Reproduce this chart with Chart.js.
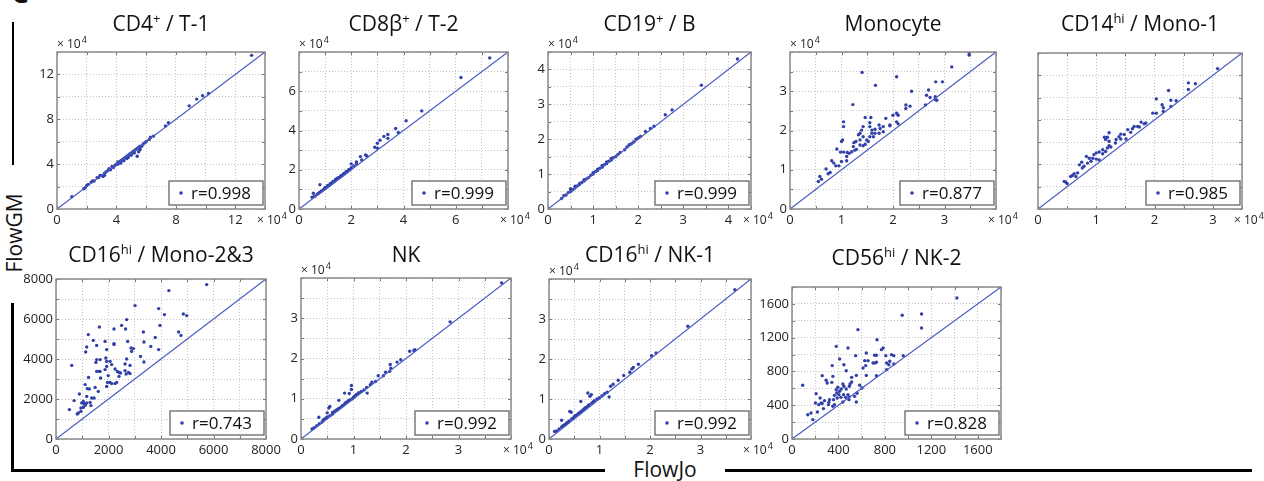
<!DOCTYPE html>
<html>
<head>
<meta charset="utf-8">
<script src="https://cdn.jsdelivr.net/npm/chart.js@4.4.0/dist/chart.umd.min.js"></script>
<style>
  body { margin: 0; width: 1264px; height: 481px; background: #fff; position: relative; overflow: hidden; font-family: 'Open Sans', sans-serif; color: #111; }
  canvas { position: absolute; }
  .tit { position: absolute; font-size: 21px; line-height: 24px; white-space: nowrap; transform: translate(-50%, -50%); }
  .tit sup { font-size: 13px; line-height: 0; vertical-align: 8px; }
  .bar { position: absolute; background: #000; }
  .lab { position: absolute; font-size: 21px; line-height: 22px; white-space: nowrap; }
</style>
</head>
<body>
<div class="lab" style="left:11px;top:-22px;font-size:28px;line-height:28px;font-weight:bold">C</div>
<div class="bar" style="left:12px;top:22px;width:2px;height:143px"></div>
<div class="bar" style="left:11px;top:303px;width:3px;height:169px"></div>
<div class="bar" style="left:11px;top:469px;width:594px;height:3px"></div>
<div class="bar" style="left:725px;top:469px;width:527px;height:3px"></div>
<div class="lab" style="left:14px;top:233px;transform:translate(-50%,-50%) rotate(-90deg)">FlowGM</div>
<div class="lab" style="left:665px;top:458px;transform:translateX(-50%)">FlowJo</div>

<script>
// titulos e coeficientes de correlacao
const titulos = ['CD4<sup>+</sup> / T-1', 'CD8β<sup>+</sup> / T-2', 'CD19<sup>+</sup> / B', 'Monocyte', 'CD14<sup>hi</sup> / Mono-1',
  'CD16<sup>hi</sup> / Mono-2&amp;3', 'NK', 'CD16<sup>hi</sup> / NK-1', 'CD56<sup>hi</sup> / NK-2'];
const rotulosR = ['r=0.998', 'r=0.999', 'r=0.999', 'r=0.877', 'r=0.985', 'r=0.743', 'r=0.992', 'r=0.992', 'r=0.828'];

// CD4+ / T-1 (x 10^4)
const cd4X = [1.0,1.8,1.9,2.0,2.1,2.3,2.4,2.5,2.7,2.8,2.9,3.0,3.1,3.2,3.2,3.3,3.4,3.5,3.6,3.7,3.8,3.9,4.0,4.1,4.1,4.2,4.3,4.3,4.4,4.5,4.5,4.6,4.7,4.7,4.8,4.8,4.9,5.0,5.0,5.1,5.2,5.2,5.3,5.4,5.4,5.5,5.5,5.6,5.6,5.7,5.8,5.9,6.0,6.2,6.3,6.5,7.3,7.5,8.9,9.4,9.8,10.2,13.1];
const cd4Y = [1.1,1.8,1.9,2.1,2.2,2.4,2.5,2.5,2.8,2.8,3.0,3.0,2.9,3.2,3.0,3.3,3.4,3.6,3.5,3.8,3.7,3.9,4.0,4.0,4.2,4.2,4.3,4.1,4.4,4.5,4.3,4.6,4.7,4.5,4.8,4.6,4.9,5.0,4.8,5.1,5.2,5.0,5.3,5.4,4.7,5.5,5.1,5.6,5.3,5.6,5.8,5.9,6.0,6.2,6.4,6.5,7.4,7.7,9.2,9.8,10.1,10.3,13.7];

// CD8b+ / T-2
const cd8X = [0.5,0.55,0.6,0.7,0.75,0.8,0.8,0.85,0.9,0.95,1.0,1.0,1.05,1.1,1.1,1.15,1.2,1.2,1.25,1.3,1.3,1.35,1.4,1.4,1.45,1.5,1.5,1.55,1.6,1.6,1.65,1.7,1.75,1.8,1.85,1.9,1.95,2.0,2.0,2.1,2.2,2.2,2.35,2.4,2.55,2.6,2.9,3.0,3.0,3.1,3.25,3.4,3.4,3.7,3.8,4.1,4.7,6.2,7.3];
const cd8Y = [0.6,0.8,0.65,0.75,0.8,1.24,0.85,0.9,0.95,1.0,1.05,1.1,1.1,1.2,1.15,1.2,1.3,1.25,1.3,1.4,1.35,1.4,1.5,1.45,1.55,1.55,1.6,1.6,1.7,1.65,1.7,1.8,1.8,1.9,1.9,2.0,2.0,2.1,2.3,2.2,2.4,2.3,2.67,2.5,2.75,2.7,3.15,3.1,3.35,3.5,3.7,3.6,3.8,4.1,3.9,4.5,5.0,6.7,7.7];

// CD19+ / B
const cd19X = [0.3,0.35,0.4,0.45,0.5,0.5,0.55,0.6,0.6,0.65,0.7,0.7,0.75,0.8,0.8,0.85,0.9,0.95,1.0,1.0,1.05,1.1,1.1,1.15,1.2,1.2,1.25,1.3,1.3,1.35,1.4,1.4,1.45,1.5,1.55,1.6,1.7,1.75,1.8,1.85,1.9,1.95,2.0,2.05,2.16,2.27,2.35,2.6,2.75,3.4,4.2];
const cd19Y = [0.3,0.38,0.4,0.47,0.5,0.58,0.55,0.6,0.65,0.66,0.7,0.73,0.76,0.8,0.84,0.86,0.9,0.97,1.0,1.04,1.07,1.1,1.14,1.17,1.2,1.25,1.27,1.3,1.35,1.37,1.4,1.45,1.47,1.5,1.56,1.62,1.7,1.78,1.84,1.87,1.92,2.0,2.04,2.08,2.22,2.31,2.37,2.7,2.84,3.55,4.3];

// Monocyte
const monoX = [3.48,3.48,3.14,2.96,2.83,1.40,2.07,1.66,1.22,2.36,2.69,2.65,2.72,2.63,2.82,2.82,2.85,2.25,2.25,2.33,2.07,2.1,2.0,1.86,2.07,2.1,1.94,1.81,1.73,1.75,1.65,1.59,1.55,1.57,1.55,1.46,1.42,1.39,1.36,1.33,1.42,1.49,1.55,1.52,1.46,1.42,1.36,1.28,1.24,1.23,1.29,1.2,1.15,1.1,1.11,1.04,0.98,1.0,1.02,1.04,1.04,0.91,1.1,1.0,0.95,0.89,0.85,0.81,0.78,0.74,0.7,0.58,0.55,0.61,1.62,1.65,1.59,1.81,1.94,1.36,1.26,1.73];
const monoY = [3.92,3.97,3.62,3.24,3.24,3.48,3.37,3.15,2.66,3.0,3.03,2.9,2.84,2.65,2.86,2.79,2.77,2.65,2.56,2.62,2.44,2.39,2.39,2.31,2.22,2.17,2.14,2.1,2.14,2.05,2.03,2.01,2.1,2.33,2.2,2.33,2.1,2.01,1.93,1.89,1.84,1.76,1.84,1.72,1.65,1.61,1.76,1.72,1.69,1.59,1.52,1.46,1.42,1.34,1.44,1.45,1.45,1.72,1.76,2.1,2.22,1.53,1.23,1.21,1.1,1.1,1.17,1.23,0.93,0.9,1.02,0.83,0.7,0.76,1.84,1.93,1.93,1.97,2.12,1.63,1.5,1.93];

// CD14hi / Mono-1
const mono1X = [3.08,2.58,2.7,2.58,2.24,2.28,2.37,2.03,2.13,2.28,2.15,2.03,1.97,2.15,1.85,1.77,1.71,1.65,1.62,1.54,1.48,1.42,1.42,1.39,1.34,1.22,1.16,1.19,1.14,1.22,1.22,1.25,1.19,1.16,1.11,1.11,1.05,1.0,0.96,0.94,0.88,0.91,0.85,0.79,0.83,0.75,0.76,0.71,0.68,0.62,0.59,0.65,0.56,0.48,0.45,0.5,1.0,1.05,1.33,1.51,1.59,1.82,1.74];
const mono1Y = [3.15,2.83,2.81,2.68,2.66,2.44,2.43,2.47,2.34,2.3,2.27,2.15,2.15,2.19,1.93,1.95,1.85,1.85,1.8,1.78,1.67,1.68,1.57,1.62,1.56,1.71,1.56,1.61,1.61,1.52,1.42,1.39,1.37,1.29,1.33,1.24,1.28,1.26,1.22,1.14,1.14,1.07,1.03,0.96,1.18,1.05,0.92,0.99,0.81,0.79,0.75,0.73,0.73,0.6,0.62,0.57,1.12,1.1,1.48,1.57,1.72,1.91,1.84];

// CD16hi / Mono-2&3
const mono23X = [5740,4300,4850,4980,3010,3910,4130,3960,4670,4760,3780,3610,3910,3330,3350,3350,3220,2690,2500,2650,2730,2860,2950,2880,2690,2630,2820,2630,2760,2820,2670,2210,2210,2210,2250,2340,2400,2460,2400,2250,2120,2060,2310,2060,2120,1930,1930,1900,1870,1930,1870,1990,1960,1930,1650,1550,1680,1640,1550,1680,1700,1610,1420,1550,1520,1490,1450,1230,1170,1130,1240,1270,1300,1330,1110,1190,1040,1070,980,1110,1040,950,1170,950,890,690,850,810,510,600,1170,1360];
const mono23Y = [7720,7420,6250,6170,6670,6520,6220,5680,5350,5180,5080,4630,4470,5350,4850,3850,4130,5970,5680,5500,4880,4550,4520,4380,4000,3750,3680,3420,3330,3270,3250,5500,4770,4720,3500,3380,3330,3300,3130,2770,2770,2830,2830,3880,3720,3880,3630,4050,4880,4470,3470,3170,2830,2630,5600,4680,3970,3380,3380,3380,3050,2380,4930,3970,3830,2580,2050,5220,4600,4350,3080,2500,1830,1670,2720,2520,1880,1770,1800,1680,1580,1380,1800,1550,2250,1920,1300,1250,1470,3680,2130,2050];

// NK
const nkX = [0.21,0.25,0.3,0.34,0.35,0.4,0.42,0.45,0.48,0.5,0.5,0.53,0.55,0.55,0.6,0.6,0.63,0.65,0.68,0.7,0.72,0.72,0.75,0.78,0.8,0.83,0.83,0.85,0.88,0.9,0.92,0.93,0.96,0.96,0.98,1.0,1.03,1.05,1.08,1.1,1.15,1.2,1.26,1.25,1.32,1.35,1.42,1.47,1.57,1.61,1.69,1.71,1.7,1.83,1.9,2.07,2.15,2.17,2.84,3.82];
const nkY = [0.25,0.28,0.33,0.54,0.38,0.42,0.47,0.5,0.52,0.65,0.55,0.77,0.81,0.58,0.62,0.66,0.67,0.7,0.72,0.73,0.96,0.76,0.78,0.82,0.83,1.14,0.87,0.9,0.92,0.95,1.13,0.97,1.33,1.23,1.0,1.04,1.07,1.1,1.12,1.15,1.18,1.22,1.14,1.28,1.35,1.41,1.43,1.57,1.57,1.66,1.68,1.76,1.85,1.91,1.97,2.18,2.2,2.22,2.91,3.88];

// CD16hi / NK-1
const nk1X = [0.11,0.15,0.2,0.25,0.25,0.28,0.3,0.33,0.35,0.38,0.4,0.41,0.44,0.45,0.48,0.5,0.52,0.55,0.58,0.6,0.63,0.63,0.65,0.68,0.7,0.72,0.75,0.77,0.78,0.81,0.8,0.84,0.85,0.88,0.9,0.95,1.0,1.05,1.1,1.15,1.19,1.22,1.27,1.37,1.48,1.6,1.64,1.67,1.77,2.03,2.12,2.75,3.68];
const nk1Y = [0.19,0.2,0.25,0.47,0.3,0.33,0.35,0.37,0.4,0.42,0.45,0.69,0.67,0.5,0.52,0.56,0.58,0.6,0.63,0.65,0.94,0.68,0.7,0.73,0.76,0.78,0.8,1.15,0.84,1.07,0.86,1.11,0.9,0.93,0.96,1.0,1.03,1.08,1.13,1.17,1.05,1.32,1.37,1.47,1.59,1.67,1.75,1.79,1.87,2.08,2.15,2.82,3.73];

// CD56hi / NK-2
const nk2X = [1420,1116,1116,949,958,568,732,381,482,785,770,640,712,727,857,877,808,548,410,626,655,698,712,727,815,834,815,635,612,467,346,447,640,727,554,514,260,352,294,303,343,92,514,500,494,438,447,395,583,603,467,424,381,410,386,404,366,444,482,491,461,421,389,358,323,317,280,251,231,260,202,208,242,314,352,271,219,179,164,136,560,539,491,554,438,366,877,842];
const nk2Y = [1670,1480,1315,1465,987,1295,1176,1097,1078,1078,1058,1018,991,991,999,987,987,987,948,928,928,900,900,908,900,880,821,869,841,809,869,880,753,750,753,730,750,742,695,663,671,636,675,651,624,651,624,612,636,604,592,592,584,565,545,525,517,525,525,497,493,493,486,466,466,434,454,426,407,420,426,537,486,407,387,360,320,229,308,288,541,505,466,438,438,407,889,920];

// eixos: maximo, passo da grade, passo dos rotulos
const paineis = [
  { xs: cd4X,   ys: cd4Y,   max: 14,   passo: 2,   rotulo: 4,   l: 57,  t: 52,  r: 265,  b: 209, topo: true,  dir: true,  yLab: true,  rotMax: false },
  { xs: cd8X,   ys: cd8Y,   max: 8,    passo: 1,   rotulo: 2,   l: 299, t: 52,  r: 508,  b: 209, topo: true,  dir: true,  yLab: true,  rotMax: false },
  { xs: cd19X,  ys: cd19Y,  max: 4.5,  passo: 0.5, rotulo: 1,   l: 548, t: 52,  r: 751,  b: 209, topo: true,  dir: true,  yLab: true,  rotMax: false },
  { xs: monoX,  ys: monoY,  max: 4,    passo: 0.5, rotulo: 1,   l: 790, t: 52,  r: 996,  b: 209, topo: true,  dir: true,  yLab: true,  rotMax: false },
  { xs: mono1X, ys: mono1Y, max: 3.5,  passo: 0.5, rotulo: 1,   l: 1038, t: 53, r: 1242, b: 209, topo: false, dir: true,  yLab: false, rotMax: false },
  { xs: mono23X, ys: mono23Y, max: 8000, passo: 1000, rotulo: 2000, l: 56, t: 279, r: 266, b: 439, topo: false, dir: false, yLab: true, rotMax: true },
  { xs: nkX,    ys: nkY,    max: 4,    passo: 0.5, rotulo: 1,   l: 301, t: 278, r: 511,  b: 439, topo: true,  dir: true,  yLab: true,  rotMax: false },
  { xs: nk1X,   ys: nk1Y,   max: 4,    passo: 0.5, rotulo: 1,   l: 549, t: 279, r: 751,  b: 439, topo: true,  dir: true,  yLab: true,  rotMax: false },
  { xs: nk2X,   ys: nk2Y,   max: 1800, passo: 200, rotulo: 400, l: 792, t: 287, r: 1001, b: 439, topo: false, dir: false, yLab: true,  rotMax: false }
];
const tituloY = [23, 23, 23, 23, 23, 254, 254, 254, 257];

const AZUL = '#3040a8';
const PAD_L = 42, PAD_T = 22, PAD_R = 40, PAD_B = 22;
const fonteTick = { family: 'Open Sans', size: 13 };

function rotular(p, mostrar) {
  return function(v) {
    if (!mostrar) return '';
    if (!p.rotMax && v >= p.max - 1e-9) return '';
    const k = v / p.rotulo;
    return Math.abs(k - Math.round(k)) < 1e-6 ? String(+v.toFixed(3)) : '';
  };
}

// "x 10" com expoente 4
function expoente(ctx, x, yBase) {
  ctx.font = '12px "Open Sans"';
  ctx.textBaseline = 'alphabetic';
  ctx.textAlign = 'left';
  ctx.fillText('× 10', x, yBase);
  const w = ctx.measureText('× 10').width;
  ctx.font = '9px "Open Sans"';
  ctx.fillText('4', x + w + 1, yBase - 5);
}

// moldura, marcas internas, legenda e "x 10^4"
function extras(p, i) {
  return {
    id: 'extras' + i,
    afterDatasetsDraw(chart) {
      const ctx = chart.ctx, a = chart.chartArea;
      const sx = chart.scales.x, sy = chart.scales.y;
      ctx.save();
      ctx.strokeStyle = '#777';
      ctx.lineWidth = 1;
      sx.ticks.forEach(t => {
        const px = Math.round(sx.getPixelForValue(t.value)) + 0.5;
        ctx.beginPath();
        ctx.moveTo(px, a.bottom); ctx.lineTo(px, a.bottom - 3);
        ctx.moveTo(px, a.top); ctx.lineTo(px, a.top + 3);
        ctx.stroke();
      });
      sy.ticks.forEach(t => {
        const py = Math.round(sy.getPixelForValue(t.value)) + 0.5;
        ctx.beginPath();
        ctx.moveTo(a.left, py); ctx.lineTo(a.left + 3, py);
        ctx.moveTo(a.right, py); ctx.lineTo(a.right - 3, py);
        ctx.stroke();
      });
      ctx.strokeStyle = '#8a8a8a';
      ctx.lineWidth = 1.5;
      ctx.strokeRect(a.left, a.top, a.right - a.left, a.bottom - a.top);

      // caixa da legenda
      const w = 94, h = 24;
      const bx = a.right - 2 - w, by = a.bottom - 4 - h;
      ctx.fillStyle = '#fff';
      ctx.fillRect(bx, by, w, h);
      ctx.strokeStyle = '#666';
      ctx.lineWidth = 1.3;
      ctx.strokeRect(bx, by, w, h);
      ctx.fillStyle = AZUL;
      ctx.beginPath();
      ctx.arc(bx + 12, by + h / 2, 1.8, 0, Math.PI * 2);
      ctx.fill();
      ctx.fillStyle = '#111';
      ctx.font = '17px "Open Sans"';
      ctx.textBaseline = 'middle';
      ctx.textAlign = 'left';
      ctx.fillText(rotulosR[i], bx + 22, by + h / 2 + 1);

      ctx.fillStyle = '#222';
      if (p.topo) expoente(ctx, a.left, a.top - 4);
      if (p.dir) expoente(ctx, a.right - 8, a.bottom + 15);
      ctx.restore();
    }
  };
}

paineis.forEach((p, i) => {
  const cv = document.createElement('canvas');
  const w = (p.r - p.l) + PAD_L + PAD_R, h = (p.b - p.t) + PAD_T + PAD_B;
  cv.width = w; cv.height = h;
  cv.style.left = (p.l - PAD_L) + 'px';
  cv.style.top = (p.t - PAD_T) + 'px';
  cv.style.width = w + 'px'; cv.style.height = h + 'px';
  document.body.appendChild(cv);

  const tit = document.createElement('div');
  tit.className = 'tit';
  tit.innerHTML = titulos[i];
  tit.style.left = ((p.l + p.r) / 2) + 'px';
  tit.style.top = tituloY[i] + 'px';
  document.body.appendChild(tit);

  const pontos = p.xs.map((x, k) => ({ x: x, y: p.ys[k] }));

  const eixo = (mostrar, largura) => ({
    type: 'linear',
    min: 0,
    max: p.max,
    grid: { color: '#c4c4c4', lineWidth: 1, drawTicks: false },
    border: { display: false, dash: [1, 2] },
    ticks: {
      stepSize: p.passo,
      autoSkip: false,
      maxRotation: 0,
      padding: 3,
      color: '#222',
      font: fonteTick,
      callback: rotular(p, mostrar)
    },
    afterFit: largura
  });

  new Chart(cv.getContext('2d'), {
    type: 'scatter',
    data: {
      datasets: [
        {
          data: [{ x: 0, y: 0 }, { x: p.max, y: p.max }],
          showLine: true,
          borderColor: '#4a5bc0',
          borderWidth: 1.2,
          pointRadius: 0
        },
        {
          data: pontos,
          backgroundColor: AZUL,
          borderWidth: 0,
          pointRadius: 1.7
        }
      ]
    },
    options: {
      responsive: false,
      animation: false,
      layout: { padding: { top: PAD_T, right: PAD_R, left: 0, bottom: 0 } },
      plugins: { legend: { display: false }, tooltip: { enabled: false } },
      scales: {
        x: eixo(true, s => { s.height = PAD_B; }),
        y: eixo(p.yLab, s => { s.width = PAD_L; })
      }
    },
    plugins: [extras(p, i)]
  });
});
</script>
</body>
</html>
